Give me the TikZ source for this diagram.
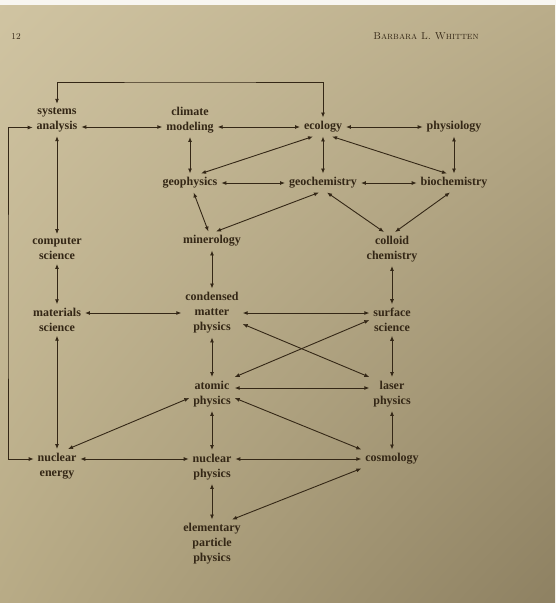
\documentclass[tikz,border=0pt]{standalone}
\usepackage{fontspec}
\newfontfamily\labelfont{Liberation Serif}
\usetikzlibrary{arrows.meta,shadings}

\definecolor{ink}{RGB}{52,39,22}
\definecolor{paperA}{RGB}{208,196,162}
\definecolor{paperB}{RGB}{186,173,138}
\definecolor{paperC}{RGB}{184,171,134}
\definecolor{paperD}{RGB}{142,129,98}

\begin{document}
\begin{tikzpicture}[x=1pt,y=-1pt,
    conn/.style={draw=ink,line width=0.9pt,
      {Latex[length=5pt,width=4pt]}-{Latex[length=5pt,width=4pt]}}]

  % page
  \shade[upper left=paperA,upper right=paperB,lower left=paperC,lower right=paperD]
    (0,0) rectangle (555,603);
  \fill[white!85!paperA] (0,0) rectangle (555,5);
  \useasboundingbox (0,0) rectangle (555,603);

  \node[text=ink,font=\fontsize{9}{9}\selectfont] (page) at (16,36) {12};
  \node[text=ink,font=\fontsize{10}{10}\selectfont] (author) at (426,36) {\textsc{Barbara L. Whitten}};

  \begin{scope}[every node/.style={align=center,text=ink,inner sep=1.5pt,outer sep=2.5pt,
      font=\labelfont\bfseries\fontsize{12}{15}\selectfont}]
    \node (sys)     at (57,120)  {systems\\analysis};
    \node (clim)    at (190,120) {climate\\modeling};
    \node (eco)     at (323,127) {ecology};
    \node (phys)    at (454,127) {physiology};
    \node (geophys) at (190,183) {geophysics};
    \node (geochem) at (323,183) {geochemistry};
    \node (biochem) at (454,183) {biochemistry};
    \node (comp)    at (57,249)  {computer\\science};
    \node (mineral) at (212,241) {minerology};
    \node (colloid) at (392,249) {colloid\\chemistry};
    \node (mat)     at (57,320)  {materials\\science};
    \node (cond)    at (212,313) {condensed\\matter\\physics};
    \node (surf)    at (392,320) {surface\\science};
    \node (atomic)  at (212,394) {atomic\\physics};
    \node (laser)   at (392,394) {laser\\physics};
    \node (energy)  at (57,466)  {nuclear\\energy};
    \node (nuclear) at (212,467) {nuclear\\physics};
    \node (cosmo)   at (392,459) {cosmology};
    \node (elem)    at (212,544) {elementary\\particle\\physics};
  \end{scope}

  \coordinate (over) at (190,82);
  \coordinate (side) at (8,300);

  % long way round
  \draw[conn] (sys.north) |- (over) -| (eco.north);
  \draw[conn] ([yshift=-7.5pt]sys.west) -| (side) |- ([yshift=7pt]energy.west);

  \begin{scope}[every edge/.style={conn}]
    \path (sys.east |- eco) edge (clim.west |- eco);
    \path (clim.east |- eco) edge (eco);
    \path (eco) edge (phys);
    \path (clim) edge (geophys);
    \path (eco) edge (geochem);
    \path (phys) edge (biochem);
    \path ([xshift=-10pt]eco.south) edge ([xshift=11pt]geophys.north);
    \path ([xshift=9pt]eco.south) edge ([xshift=-7pt]biochem.north);
    \path (geophys) edge (geochem);
    \path (geochem) edge (biochem);
    \path (geophys) edge (mineral);
    \path ([xshift=-4pt]geochem.south) edge ([xshift=4pt]mineral.north);
    \path ([xshift=4pt]geochem.south) edge ([xshift=-8pt]colloid.north);
    \path ([xshift=-4pt]biochem.south) edge ([xshift=3pt]colloid.north);
    \path (sys) edge (comp);
    \path (comp) edge (mat);
    \path (mineral) edge (cond);
    \path (colloid) edge (surf);
    \path (mat.east |- cond) edge (cond);
    \path (cond) edge (surf.west |- cond);
    \path ([yshift=-11pt]cond.east) edge (laser.north west);
    \path (surf.west) edge (atomic.north east);
    \path (cond) edge (atomic);
    \path (surf) edge (laser);
    \path ([yshift=6pt]atomic.east) edge ([yshift=6pt]laser.west);
    \path ([yshift=-4pt]atomic.west) edge ([xshift=11pt]energy.north);
    \path ([yshift=-4pt]atomic.east) edge (cosmo.north west);
    \path (atomic) edge (nuclear);
    \path (laser) edge (cosmo);
    \path (mat) edge (energy);
    \path (energy.east |- cosmo) edge (nuclear.west |- cosmo);
    \path (nuclear.east |- cosmo) edge (cosmo);
    \path (nuclear) edge (elem);
    \path (cosmo.south west) edge ([xshift=20pt]elem.north);
  \end{scope}

\end{tikzpicture}
\end{document}
